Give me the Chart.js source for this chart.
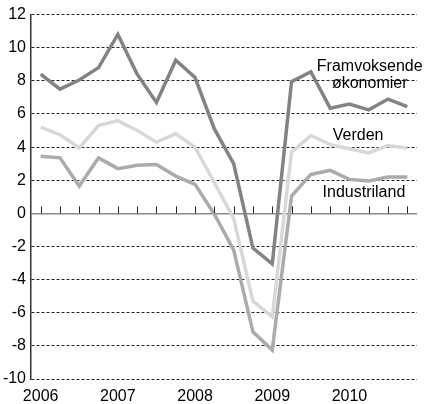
<!DOCTYPE html>
<html>
<head>
<meta charset="utf-8">
<script src="https://cdn.jsdelivr.net/npm/chart.js@4"></script>
<style>
  html, body { margin: 0; padding: 0; background: #fff; }
  #wrap { width: 424px; height: 404px; }
</style>
</head>
<body>
<div id="wrap"><canvas id="myLineChart" width="424" height="404"></canvas></div>
<script>
// quarters 2006K1 - 2010K4
var quarters = [
  "2006K1", "2006K2", "2006K3", "2006K4",
  "2007K1", "2007K2", "2007K3", "2007K4",
  "2008K1", "2008K2", "2008K3", "2008K4",
  "2009K1", "2009K2", "2009K3", "2009K4",
  "2010K1", "2010K2", "2010K3", "2010K4"
];
var yearLabels = ["2006", "2007", "2008", "2009", "2010"];

var framvoksende = [8.4, 7.5, 8.05, 8.8, 10.8, 8.4, 6.7, 9.25, 8.2, 5.1, 3.0, -2.1, -3.05, 7.95, 8.55, 6.35, 6.6, 6.25, 6.9, 6.45];
var verden = [5.2, 4.75, 3.95, 5.3, 5.6, 5.0, 4.3, 4.8, 4.0, 1.85, -0.3, -5.3, -6.25, 3.7, 4.7, 4.15, 3.9, 3.65, 4.1, 3.95];
var industriland = [3.45, 3.35, 1.65, 3.35, 2.7, 2.9, 2.95, 2.25, 1.75, -0.05, -2.2, -7.15, -8.25, 1.05, 2.35, 2.6, 2.05, 1.95, 2.2, 2.2];

// text labels: [text, category index, value]
var seriesLabels = [
  ["Framvoksende", 17.05, 8.85],
  ["økonomier", 17.05, 7.85],
  ["Verden", 16.45, 4.7],
  ["Industriland", 16.75, 1.25]
];

var fontFamily = "'Liberation Sans', Arial, sans-serif";

// small tick marks on the zero line + text labels
var extras = {
  id: "extras",
  afterDatasetsDraw: function(chart) {
    var ctx = chart.ctx;
    var x = chart.scales.x;
    var y = chart.scales.y;
    var y0 = y.getPixelForValue(0);
    ctx.save();
    ctx.strokeStyle = "#222";
    ctx.lineWidth = 1;
    ctx.beginPath();
    for (var i = 0; i < quarters.length; i++) {
      var px = Math.round(x.getPixelForValue(i)) + 0.5;
      ctx.moveTo(px, y0);
      ctx.lineTo(px, y0 - 7);
    }
    ctx.stroke();

    ctx.fillStyle = "#000";
    ctx.font = "16px " + fontFamily;
    ctx.textAlign = "center";
    ctx.textBaseline = "middle";
    seriesLabels.forEach(function(l) {
      ctx.fillText(l[0], x.getPixelForValue(l[1]), y.getPixelForValue(l[2]));
    });
    ctx.restore();
  }
};

var ctx = document.getElementById("myLineChart");
var myLineChart = new Chart(ctx, {
  type: "line",
  data: {
    labels: quarters,
    datasets: [
      { label: "Framvoksende økonomier", data: framvoksende, borderColor: "#838383" },
      { label: "Verden", data: verden, borderColor: "#d8d8d8" },
      { label: "Industriland", data: industriland, borderColor: "#ababab" }
    ]
  },
  options: {
    responsive: false,
    animation: false,
    devicePixelRatio: 1,
    layout: { padding: { top: 11, right: 7, left: 0, bottom: 0 } },
    elements: {
      line: { borderWidth: 3.5, tension: 0, fill: false },
      point: { radius: 0, hoverRadius: 0 }
    },
    plugins: {
      legend: { display: false },
      tooltip: { enabled: false }
    },
    scales: {
      x: {
        offset: true,
        grid: { display: false, drawTicks: false },
        border: { display: false },
        afterFit: function(scale) { scale.height = 25; },
        ticks: {
          autoSkip: false,
          maxRotation: 0,
          padding: 8,
          color: "#000",
          font: { family: fontFamily, size: 16 },
          callback: function(v, i) {
            return i % 4 === 0 ? yearLabels[i / 4] : "";
          }
        }
      },
      y: {
        min: -10,
        max: 12,
        afterFit: function(scale) { scale.width = 31; },
        grid: {
          drawTicks: false,
          color: function(c) { return c.tick && c.tick.value === 0 ? "#8a8a8a" : "#222"; },
          lineWidth: function(c) { return c.tick && c.tick.value === 0 ? 1.5 : 1; }
        },
        border: {
          display: true,
          color: "#333",
          width: 1.5,
          dash: function(c) { return c.tick && c.tick.value === 0 ? [] : [3, 2]; }
        },
        ticks: {
          stepSize: 2,
          padding: 5,
          color: "#000",
          font: { family: fontFamily, size: 16 }
        }
      }
    }
  },
  plugins: [extras]
});
</script>
</body>
</html>
